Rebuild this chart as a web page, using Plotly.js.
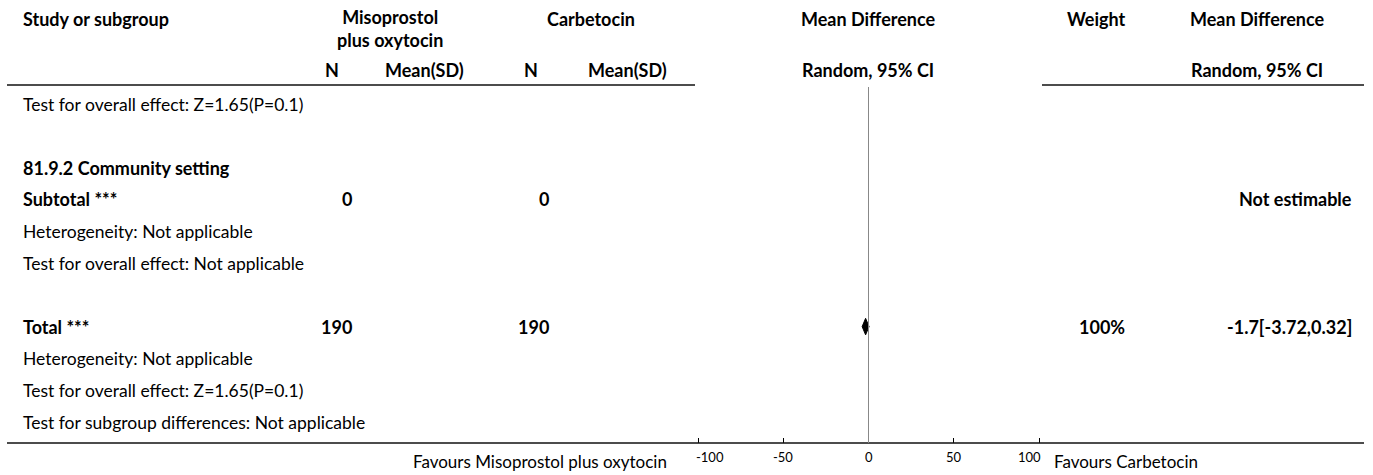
<!DOCTYPE html>
<html>
<head>
<meta charset="utf-8">
<script src="https://cdn.plot.ly/plotly-3.0.1.min.js"></script>
<style>html,body{margin:0;padding:0;background:#fff;}#chart{width:1373px;height:475px;}</style>
</head>
<body>
<div id="chart"></div>
<script>
// ---- data ----
const rowLabels = [
  "Test for overall effect: Z=1.65(P=0.1)",
  "",
  "81.9.2 Community setting",
  "Subtotal ***",
  "Heterogeneity: Not applicable",
  "Test for overall effect: Not applicable",
  "",
  "Total ***",
  "Heterogeneity: Not applicable",
  "Test for overall effect: Z=1.65(P=0.1)",
  "Test for subgroup differences: Not applicable"
];
const rowBold = [false, false, true, true, false, false, false, true, false, false, false];
const nMiso = ["", "", "", "0", "", "", "", "190", "", "", ""];
const nCarb = ["", "", "", "0", "", "", "", "190", "", "", ""];
const weights = ["", "", "", "", "", "", "", "100%", "", "", ""];
const ciTexts = ["", "", "", "Not estimable", "", "", "", "-1.7[-3.72,0.32]", "", "", ""];

const diamondRow = [7];
const diamondMean = [-1.7];
const diamondLow = [-3.72];
const diamondHigh = [0.32];

const tickVals = [-100, -50, 0, 50, 100];
const tickLabels = ["-100", "-50", "0", "50", "100"];

const favLeft = "Favours Misoprostol plus oxytocin";
const favRight = "Favours Carbetocin";

// ---- layout helpers ----
const W = 1373, H = 475, PLOT_BOTTOM = 443;
const FONT = "Lato, 'Open Sans', sans-serif";
const REG = 17.5, BOLD = 18;
const px = v => v / W;
const ROW0 = 104, ROWH = 31.8;
const rowY = p => (p - ROW0) / ROWH;   // pixel -> y-axis row units
const paperY = p => (PLOT_BOTTOM - p) / PLOT_BOTTOM;

const annotations = [];
function addText(text, xPix, y, anchor, bold) {
  annotations.push({
    text: bold ? "<b>" + text + "</b>" : text,
    x: px(xPix), xref: "paper", xanchor: anchor,
    y: y, yref: "y", yanchor: "middle",
    showarrow: false,
    font: {family: FONT, size: bold ? BOLD : REG, color: "#000"}
  });
}

// headers
addText("Study or subgroup", 21, rowY(19), "left", true);
addText("Misoprostol<br>plus oxytocin", 390, rowY(28.5), "center", true);
addText("Carbetocin", 591, rowY(19), "center", true);
addText("N", 332, rowY(70), "center", true);
addText("Mean(SD)", 424, rowY(70), "center", true);
addText("N", 531, rowY(70), "center", true);
addText("Mean(SD)", 627, rowY(70), "center", true);
addText("Mean Difference", 868, rowY(19), "center", true);
addText("Random, 95% CI", 868, rowY(70), "center", true);
addText("Weight", 1096, rowY(19), "center", true);
addText("Mean Difference", 1257, rowY(19), "center", true);
addText("Random, 95% CI", 1257, rowY(70), "center", true);

// rows
rowLabels.forEach((t, i) => {
  if (t) addText(t, 21, i, "left", rowBold[i]);
  if (nMiso[i]) addText(nMiso[i], 354, i, "right", true);
  if (nCarb[i]) addText(nCarb[i], 551, i, "right", true);
  if (weights[i]) addText(weights[i], 1102, i, "center", true);
  if (ciTexts[i]) addText(ciTexts[i], 1354, i, "right", true);
});

// tick labels on the x scale (end labels kept inside the axis span)
tickVals.forEach((v, k) => {
  annotations.push({
    text: tickLabels[k], x: v, xref: "x",
    xanchor: k === 0 ? "left" : (k === tickVals.length - 1 ? "right" : "center"),
    xshift: k === 0 ? -4 : (k === tickVals.length - 1 ? 4 : 0),
    y: paperY(457), yref: "paper", yanchor: "middle", showarrow: false,
    font: {family: FONT, size: 13, color: "#000"}
  });
});

// favours labels
annotations.push({text: favLeft, x: px(669), xref: "paper", xanchor: "right",
  y: paperY(461), yref: "paper", yanchor: "middle", showarrow: false,
  font: {family: FONT, size: 17, color: "#000"}});
annotations.push({text: favRight, x: px(1052), xref: "paper", xanchor: "left",
  y: paperY(461), yref: "paper", yanchor: "middle", showarrow: false,
  font: {family: FONT, size: 17, color: "#000"}});

// diamond trace
const dx = [], dy = [];
diamondRow.forEach((r, k) => {
  dx.push(diamondLow[k], diamondMean[k], diamondHigh[k], diamondMean[k], diamondLow[k], null);
  dy.push(r, r - 0.26, r, r + 0.26, r, null);
});
const traces = [{
  x: dx, y: dy, type: "scatter", mode: "lines",
  fill: "toself", fillcolor: "#000",
  line: {color: "#000", width: 1},
  hoverinfo: "skip", showlegend: false
}];

const shapes = [
  // header rule (broken under the plot column)
  {type: "line", xref: "paper", yref: "paper", x0: px(7), x1: px(695), y0: paperY(85), y1: paperY(85), line: {color: "#111", width: 1.5}},
  {type: "line", xref: "paper", yref: "paper", x0: px(1042), x1: px(1364), y0: paperY(85), y1: paperY(85), line: {color: "#111", width: 1.5}},
  // bottom rule
  {type: "line", xref: "paper", yref: "paper", x0: px(7), x1: px(1364), y0: 0, y1: 0, line: {color: "#111", width: 1.5}},
  // line of no effect
  {type: "line", xref: "x", yref: "paper", x0: 0, x1: 0, y0: 0, y1: paperY(87), line: {color: "#888", width: 1}}
];

const xPerPx = 200 / (1039 - 698);
const layout = {
  width: W, height: H,
  margin: {l: 0, r: 0, t: 0, b: H - PLOT_BOTTOM, pad: 0},
  paper_bgcolor: "#fff", plot_bgcolor: "#fff",
  showlegend: false,
  xaxis: {
    range: [-100 - 698 * xPerPx, 100 + (W - 1039) * xPerPx],
    tickmode: "array", tickvals: tickVals, ticktext: tickLabels,
    ticks: "inside", ticklen: 5, tickwidth: 1, tickcolor: "#000",
    showticklabels: false,
    showgrid: false, zeroline: false, showline: false,
    fixedrange: true
  },
  yaxis: {
    range: [rowY(PLOT_BOTTOM), rowY(0)],
    showgrid: false, zeroline: false, showline: false, showticklabels: false, ticks: "",
    fixedrange: true
  },
  shapes: shapes,
  annotations: annotations
};

Plotly.newPlot("chart", traces, layout, {displayModeBar: false, staticPlot: true});
</script>
</body>
</html>
